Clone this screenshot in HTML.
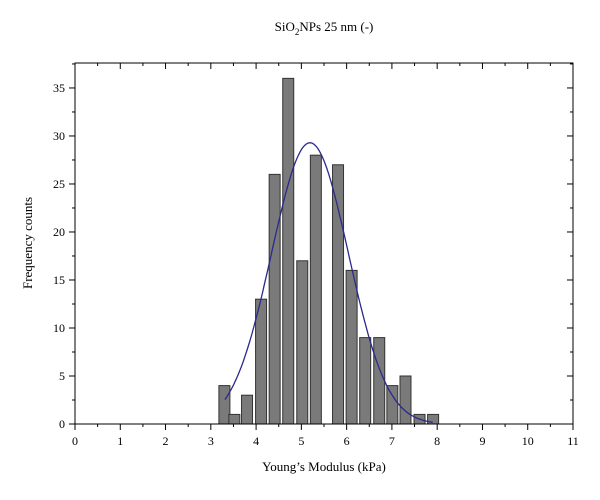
<!DOCTYPE html>
<html><head><meta charset="utf-8"><style>
body{margin:0;background:#fff}
svg{display:block;font-family:"Liberation Serif",serif}
</style></head><body>
<svg id="c" width="600" height="500" xmlns="http://www.w3.org/2000/svg">
<rect width="600" height="500" fill="#fff"/>
<text x="324" y="31" text-anchor="middle" font-size="13">SiO<tspan font-size="9" dy="4">2</tspan><tspan dy="-4">NPs 25 nm (-)</tspan></text>
<text x="324" y="471" text-anchor="middle" font-size="13">Young’s Modulus (kPa)</text>
<text transform="translate(32,243) rotate(-90)" text-anchor="middle" font-size="13">Frequency counts</text>
<g id="bars"></g><g id="axes"></g>
</svg>
<script>
const binCenters=[3.30,3.52,3.80,4.11,4.41,4.71,5.02,5.32,5.81,6.11,6.41,6.72,7.01,7.30,7.61,7.91];
const counts=[4,1,3,13,26,36,17,28,27,16,9,9,4,5,1,1];
const binWidth=[0.243];
const fitMean=[5.19];
const fitSigma=[0.85];
const fitPeak=[29.3];
const fitRange=[3.31,7.9];
const xTicks=[0,1,2,3,4,5,6,7,8,9,10,11];
const yTicks=[0,5,10,15,20,25,30,35];
const L=75,R=573,T=63,B=424;
const xs=v=>L+(R-L)*v/11, ys=v=>B-(B-T)*v/37.6;
const NS="http://www.w3.org/2000/svg";
const mk=(t,a,p)=>{const e=document.createElementNS(NS,t);for(const k in a)e.setAttribute(k,a[k]);p.appendChild(e);return e;};
const bars=document.getElementById('bars'),ax=document.getElementById('axes');
binCenters.forEach((c,i)=>{
 const w=xs(binWidth[0])-xs(0);
 const r=mk('rect',{x:xs(c)-w/2,y:ys(counts[i]),width:w,height:ys(0)-ys(counts[i]),fill:'#7a7a7a',stroke:'#333','stroke-width':1},bars);
 
 
});
let d='';
for(let k=0;k<=100;k++){const x=fitRange[0]+(fitRange[1]-fitRange[0])*k/100;const y=fitPeak[0]*Math.exp(-((x-fitMean[0])**2)/(2*fitSigma[0]**2));d+=(k?'L':'M')+xs(x).toFixed(1)+' '+ys(y).toFixed(1);}
const fit=mk('path',{d:d,fill:'none',stroke:'#2a2a8c','stroke-width':1.3},bars);


const frame=mk('rect',{x:L,y:T,width:R-L,height:B-T,fill:'none',stroke:'#000','stroke-width':1},ax);


xTicks.forEach(v=>{
 const x=xs(v);
 mk('line',{x1:x,x2:x,y1:B,y2:B+6,stroke:'#000'},ax);
 mk('line',{x1:x,x2:x,y1:T,y2:T+6,stroke:'#000'},ax);
 if(v<11){const xm=xs(v+0.5);mk('line',{x1:xm,x2:xm,y1:B,y2:B+3,stroke:'#000'},ax);mk('line',{x1:xm,x2:xm,y1:T,y2:T+3,stroke:'#000'},ax);}
 const t=mk('text',{x:x,y:B+21,'text-anchor':'middle','font-size':12},ax);t.textContent=v;
 
 
});
yTicks.forEach(v=>{
 const y=ys(v);
 mk('line',{x1:L-6,x2:L,y1:y,y2:y,stroke:'#000'},ax);
 mk('line',{x1:R-6,x2:R,y1:y,y2:y,stroke:'#000'},ax);
 const ym=ys(v+2.5);mk('line',{x1:L-3,x2:L,y1:ym,y2:ym,stroke:'#000'},ax);mk('line',{x1:R-3,x2:R,y1:ym,y2:ym,stroke:'#000'},ax);
 const t=mk('text',{x:L-10,y:y+4,'text-anchor':'end','font-size':12},ax);t.textContent=v;
 
 
});
</script>
</body></html>
